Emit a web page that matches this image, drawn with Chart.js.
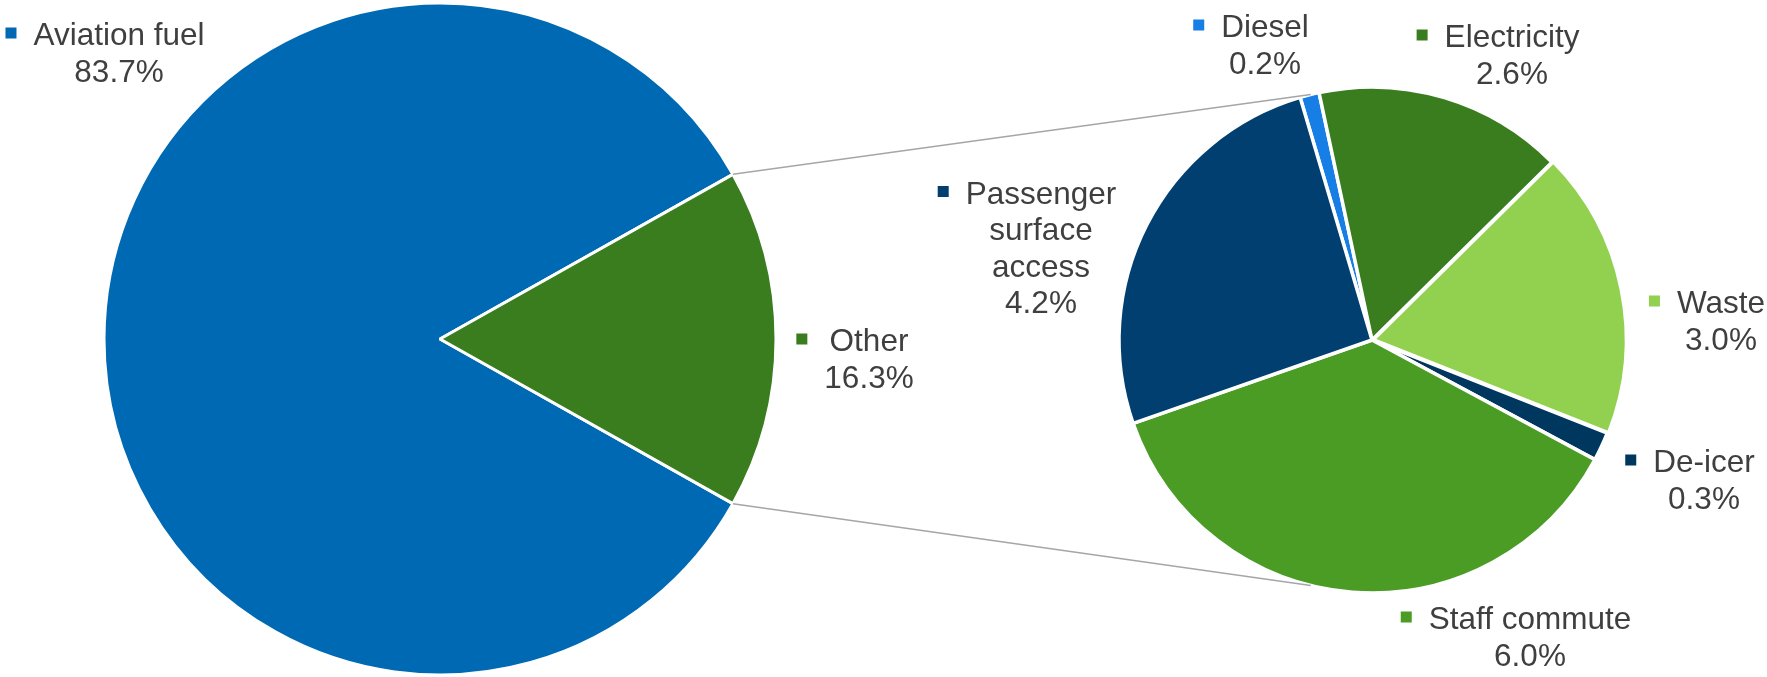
<!DOCTYPE html>
<html>
<head>
<meta charset="utf-8">
<title>Emissions by source</title>
<script src="https://cdn.jsdelivr.net/npm/chart.js@4.4.1/dist/chart.umd.min.js"></script>
<style>
  html, body { margin: 0; padding: 0; background: #fff; }
  #wrap { position: relative; width: 1767px; height: 677px; }
  #wrap canvas { position: absolute; left: 0; top: 0; }
</style>
</head>
<body>
<div id="wrap">
  <canvas id="mainPie" width="1767" height="677"></canvas>
  <canvas id="otherPie" width="1767" height="677"></canvas>
</div>
<script>
// Main split
const mainLabels = ['Aviation fuel', 'Other'];
const mainValues = [83.7, 16.3];
const mainColors = ['#0069b4', '#3a7d1e'];

// Breakdown of "Other"
const otherLabels = ['Diesel', 'Electricity', 'Waste', 'De-icer', 'Staff commute', ['Passenger', 'surface', 'access']];
const otherValues = [0.2, 2.6, 3.0, 0.3, 6.0, 4.2];
const otherColors = ['#177ee6', '#3a7d1e', '#92d050', '#00375f', '#4a9c24', '#003f6f'];

// where each label's first line sits, relative to the pie centre
const mainLabelPos = [[-321, -305], [429, 1]];
const otherLabelPos = [[-107, -314], [140, -304], [349, -38], [332, 121], [158, 278], [-331, -147.5]];

const FONT = '31.5px "Liberation Sans", Arial, sans-serif';
const TEXT_COLOR = '#3f3f3f';
const LINE_H = 36.5;

// label with a small colour key in front, value underneath
const sliceLabels = {
  id: 'sliceLabels',
  afterDatasetsDraw(chart, args, opts) {
    const ctx = chart.ctx;
    const ds = chart.data.datasets[0];
    const arcs = chart.getDatasetMeta(0).data;
    ctx.save();
    ctx.font = FONT;
    ctx.textAlign = 'center';
    ctx.textBaseline = 'alphabetic';
    chart.data.labels.forEach((label, i) => {
      const lines = [].concat(label, ds.data[i].toFixed(1) + '%');
      const cx = arcs[i].x + opts.pos[i][0];
      const cy = arcs[i].y + opts.pos[i][1];
      const w = Math.max(...lines.map(l => ctx.measureText(l).width));
      ctx.fillStyle = ds.backgroundColor[i];
      ctx.fillRect(cx - w / 2 - 17 - 11, cy - 6.5, 11, 11);
      ctx.fillStyle = TEXT_COLOR;
      lines.forEach((l, k) => ctx.fillText(l, cx, cy + k * LINE_H + 11));
    });
    ctx.restore();
  }
};

const mainTotal = mainValues.reduce((a, b) => a + b, 0);

const mainChart = new Chart(document.getElementById('mainPie'), {
  type: 'pie',
  data: {
    labels: mainLabels,
    datasets: [{
      data: mainValues,
      backgroundColor: mainColors,
      borderColor: '#fff',
      borderWidth: 3,
      radius: 336
    }]
  },
  options: {
    responsive: false,
    animation: false,
    events: [],
    // keep "Other" centred on the right-hand side
    rotation: 90 + mainValues[1] / mainTotal * 180,
    layout: { padding: { left: 0, right: 887, top: 1, bottom: 0 } },
    plugins: {
      legend: { display: false },
      tooltip: { enabled: false },
      sliceLabels: { pos: mainLabelPos }
    }
  },
  plugins: [sliceLabels]
});

// grey lines joining the "Other" slice to the breakdown pie
const connectors = {
  id: 'connectors',
  afterDatasetsDraw(chart) {
    const other = mainChart.getDatasetMeta(0).data[1];
    const pie = chart.getDatasetMeta(0).data[0];
    const ctx = chart.ctx;
    const tilt = 14 * Math.PI / 180;
    const ends = [
      [other.startAngle, -Math.PI / 2 - tilt],
      [other.endAngle, Math.PI / 2 + tilt]
    ];
    ctx.save();
    ctx.strokeStyle = '#a6a6a6';
    ctx.lineWidth = 1.5;
    ends.forEach(([a, b]) => {
      ctx.beginPath();
      ctx.moveTo(other.x + other.outerRadius * Math.cos(a), other.y + other.outerRadius * Math.sin(a));
      ctx.lineTo(pie.x + pie.outerRadius * Math.cos(b), pie.y + pie.outerRadius * Math.sin(b));
      ctx.stroke();
    });
    ctx.restore();
  }
};

new Chart(document.getElementById('otherPie'), {
  type: 'pie',
  data: {
    labels: otherLabels,
    datasets: [{
      data: otherValues,
      backgroundColor: otherColors,
      borderColor: '#fff',
      borderWidth: 3.5,
      offset: [0, 0, 5, 0, 0, 0],
      radius: 253
    }]
  },
  options: {
    responsive: false,
    animation: false,
    events: [],
    rotation: -16.5,
    layout: { padding: { left: 977, right: 0, top: 3, bottom: 0 } },
    plugins: {
      legend: { display: false },
      tooltip: { enabled: false },
      sliceLabels: { pos: otherLabelPos }
    }
  },
  plugins: [connectors, sliceLabels]
});
</script>
</body>
</html>
